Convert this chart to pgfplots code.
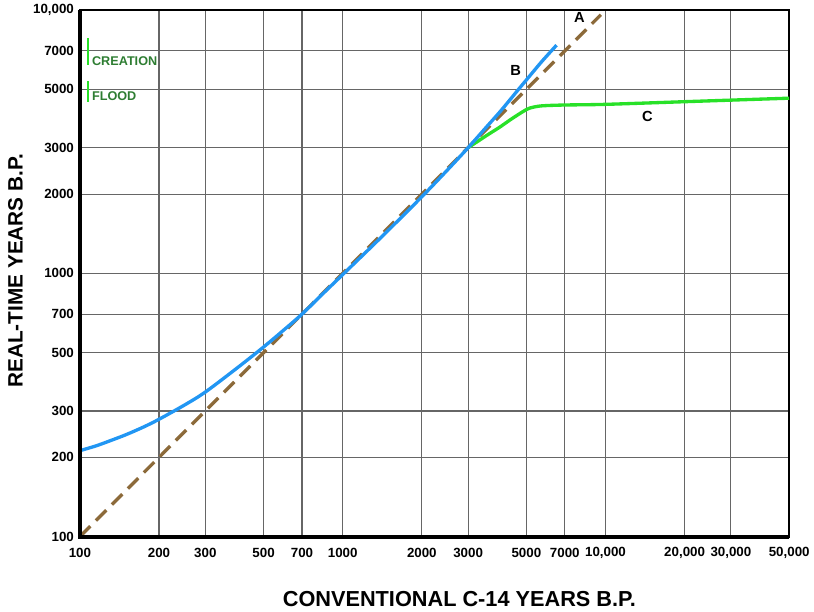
\documentclass[border=0pt]{standalone}
\usepackage{fontspec}
\setmainfont{Liberation Sans}
\usepackage{pgfplots}
\pgfplotsset{compat=1.18}
\definecolor{cblue}{RGB}{33,150,243}
\definecolor{cgreen}{RGB}{40,225,40}
\definecolor{cbrown}{RGB}{140,106,58}
\definecolor{tgreen}{RGB}{46,125,50}
\begin{document}
\begin{tikzpicture}
\path (-60pt,-54pt) rectangle (550.5pt,402.75pt);
\begin{axis}[
  scale only axis,
  width=532.5pt, height=395.25pt,
  xmode=log, ymode=log,
  xmin=100, xmax=50000, ymin=100, ymax=10000,
  xtick={100,200,300,500,700,1000,2000,3000,5000,7000,10000,20000,30000,50000},
  xticklabels={100,200,300,500,700,1000,2000,3000,5000,7000,{10,000},{20,000},{30,000},{50,000}},
  ytick={100,200,300,500,700,1000,2000,3000,5000,7000,10000},
  yticklabels={100,200,300,500,700,1000,2000,3000,5000,7000,{10,000}},
  minor xtick={}, minor ytick={},
  major tick length=0pt,
  xmajorgrids, ymajorgrids,
  major grid style={black!60, line width=0.8pt},
  axis line style={black, line width=1.5pt},
  tick label style={font=\bfseries\fontsize{10}{12}\selectfont},
  xticklabel style={anchor=center, yshift=-12pt},
  yticklabel style={anchor=east, xshift=-1pt},
  xlabel={CONVENTIONAL C-14 YEARS B.P.},
  ylabel={REAL-TIME YEARS B.P.},
  xlabel style={font=\bfseries\fontsize{16.3}{19}\selectfont, at={(axis description cs:0.535,-0.1195)}, anchor=center},
  ylabel style={font=\bfseries\fontsize{15.6}{18}\selectfont, at={(axis description cs:-0.0908,0.505)}, anchor=center},
  clip=false,
]
\addplot[cbrown, line width=2.5pt, dash pattern=on 11pt off 6pt] coordinates {
 (100,100) (9600,9600)};
\addplot[cgreen, line width=2.5pt, smooth] coordinates {
 (3000,3000) (3532,3342) (3954,3590) (4426,3882) (5000,4190) (5293,4275)
 (5758,4330) (7000,4360) (10000,4385) (20000,4488) (30000,4550) (50000,4628)};
\addplot[cblue, line width=2.5pt, smooth] coordinates {
 (100,212) (115,221) (130,231) (150,244) (175,261) (200,279) (250,316)
 (300,354) (400,440) (500,525) (600,612) (700,700) (850,846) (1000,989)
 (1250,1227) (1500,1466) (2000,1954) (2500,2466) (3000,3000) (3500,3570)
 (4000,4150) (4667,5000) (5000,5430) (5700,6350) (6513,7360)};
\draw[black, line width=3pt] (rel axis cs:0,1) -- (rel axis cs:0,0) -- (rel axis cs:1,0);
\node[font=\bfseries\fontsize{11}{13}\selectfont] at (axis cs:7960,9400) {A};
\node[font=\bfseries\fontsize{11}{13}\selectfont] at (axis cs:4550,5900) {B};
\node[font=\bfseries\fontsize{11}{13}\selectfont] at (axis cs:14450,3945) {C};
\draw[cgreen, line width=1.3pt] (axis cs:107,7820) -- (axis cs:107,6170);
\draw[cgreen, line width=1.3pt] (axis cs:107,5370) -- (axis cs:107,4470);
\node[anchor=west, inner sep=0pt, text=tgreen, font=\bfseries\fontsize{9.5}{11}\selectfont] at (axis cs:111,6400) {CREATION};
\node[anchor=west, inner sep=0pt, text=tgreen, font=\bfseries\fontsize{9.5}{11}\selectfont] at (axis cs:111,4700) {FLOOD};
\end{axis}
\end{tikzpicture}
\end{document}
